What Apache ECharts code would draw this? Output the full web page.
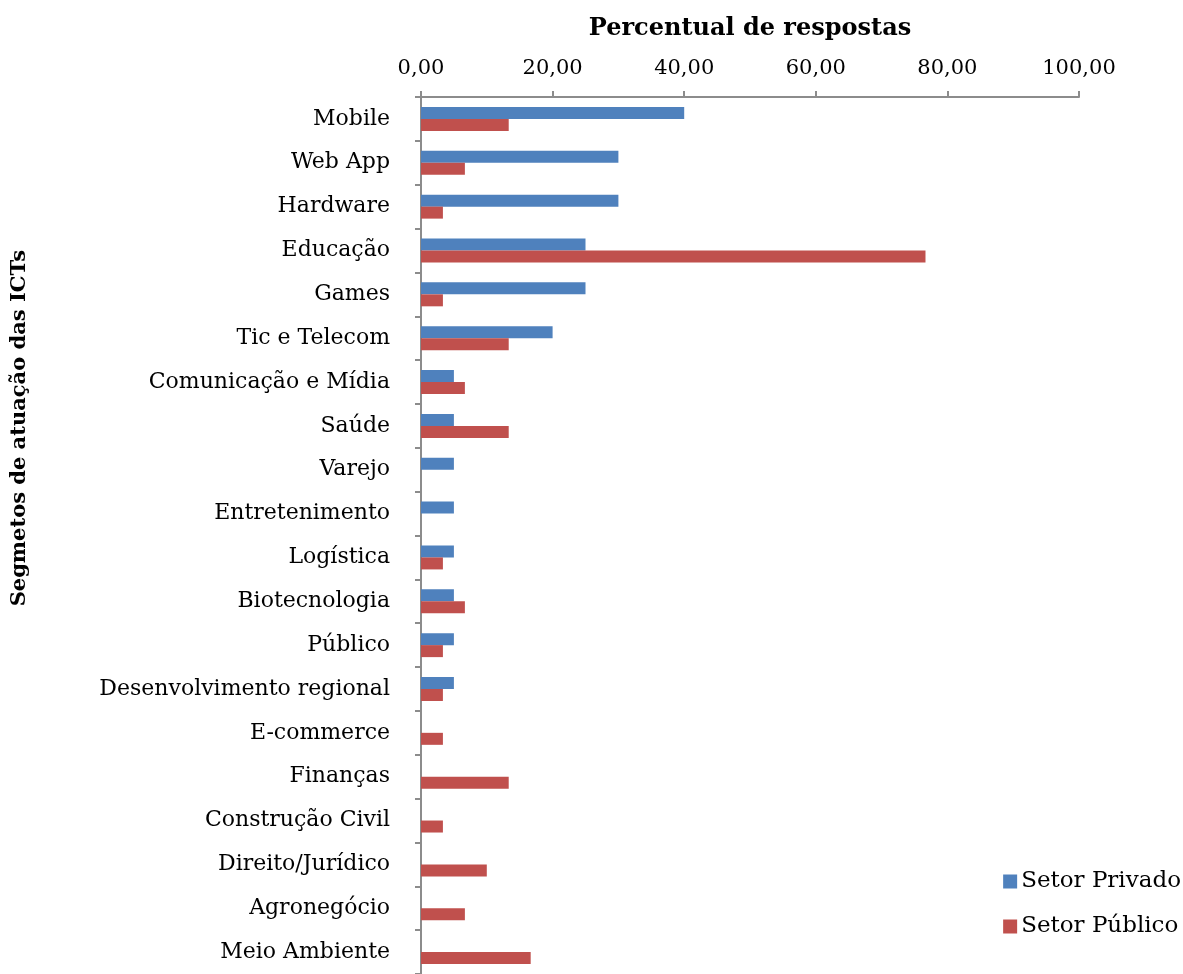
<!DOCTYPE html>
<html>
<head>
<meta charset="utf-8">
<script src="https://cdn.jsdelivr.net/npm/echarts@6/dist/echarts.min.js"></script>
<style>html,body{margin:0;padding:0;background:#fff;}#c{width:1183px;height:974px;}</style>
</head>
<body>
<div id="c"></div>
<script>
var categories = ["Mobile","Web App","Hardware","Educação","Games","Tic e Telecom","Comunicação e Mídia","Saúde","Varejo","Entretenimento","Logística","Biotecnologia","Público","Desenvolvimento regional","E-commerce","Finanças","Construção Civil","Direito/Jurídico","Agronegócio","Meio Ambiente"];
var privado = [40,30,30,25,25,20,5,5,5,5,5,5,5,5,0,0,0,0,0,0];
var publico = [13.33,6.67,3.33,76.67,3.33,13.33,6.67,13.33,0,0,3.33,6.67,3.33,3.33,3.33,13.33,3.33,10,6.67,16.67];
var xTicks = [0,20,40,60,80,100];

var F = "DejaVu Serif";
var chart = echarts.init(document.getElementById('c'));
chart.setOption({
  animation:false,
  grid:{left:421, top:97, width:658, height:880},
  legend:{
    orient:'vertical', right:2, top:870, icon:'rect', itemWidth:14, itemHeight:14, itemGap:22, padding:0,
    textStyle:{fontFamily:F, fontSize:23, color:'#000', padding:[0,0,0,-1]},
    data:['Setor Privado','Setor Público']
  },
  xAxis:{
    type:'value', position:'top', min:0, max:100, interval:20,
    name:'Percentual de respostas', nameLocation:'middle', nameGap:56,
    nameTextStyle:{fontFamily:F, fontWeight:'bold', fontSize:24, color:'#000'},
    axisLine:{show:true, lineStyle:{color:'#8c8c8c', width:2}},
    axisTick:{show:true, length:6, lineStyle:{color:'#8c8c8c', width:2}},
    splitLine:{show:false},
    axisLabel:{fontFamily:F, fontSize:21, color:'#000', margin:18,
      formatter:function(v){return v.toFixed(2).replace('.',',');}}
  },
  yAxis:{
    type:'category', inverse:true, data:categories,
    axisLine:{show:true, lineStyle:{color:'#8c8c8c', width:2}},
    axisTick:{show:true, length:6, lineStyle:{color:'#8c8c8c', width:2}},
    axisLabel:{fontFamily:F, fontSize:22, color:'#000', margin:31}
  },
  graphic:[{
    type:'text', left:9, top:250, rotation:Math.PI/2,
    style:{text:'Segmetos de atuação das ICTs', font:'bold 21px "DejaVu Serif"', fill:'#000'}
  }],
  series:[
    {name:'Setor Privado', type:'bar', data:privado, barWidth:12, barGap:'0%', itemStyle:{color:'#4F81BD'}},
    {name:'Setor Público', type:'bar', data:publico, barWidth:12, barGap:'0%', itemStyle:{color:'#C0504D'}}
  ]
});
</script>
</body>
</html>
